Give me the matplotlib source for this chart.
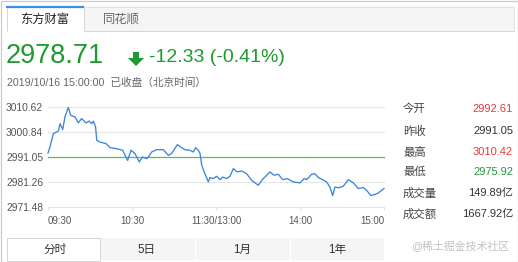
import matplotlib
matplotlib.use("Agg")
import matplotlib.pyplot as plt
from matplotlib.patches import Rectangle, Polygon

plt.rcParams['font.family'] = ['Liberation Sans', 'Noto Sans CJK SC', 'DejaVu Sans']

# ---------------- data ----------------
minutes = [0, 1.4, 3.8, 7.4, 8.6, 10.5, 12.1, 14.5, 16.2, 19.3, 21.7, 24, 27.1, 29.5, 31.2,
           32.4, 34, 34.8, 37.1, 41.4, 44.3, 49, 53.3, 56.9, 59.3, 62.1, 65.2, 67.6, 70.5,
           72.1, 74, 77.6, 82.4, 86, 88.3, 92.4, 95.5, 97.9, 101.4, 103.8, 105.5, 107.4,
           108.6, 109.8, 112.1, 114.5, 115.7, 118, 120.5, 122.9, 124.8, 127.6, 130, 132.4,
           135.2, 138.3, 141.9, 145.5, 150.2, 153.8, 158.6, 161.4, 164.5, 167.6, 170.9,
           175.2, 180, 182.9, 184.8, 188.3, 190.7, 193.1, 196.2, 199, 201.4, 203.3, 205,
           207.4, 210.9, 214.5, 218.1, 221.7, 225.2, 227.6, 230.5, 233.6, 236, 238.3, 240]
prices = [2992.61, 2994.96, 3000.2, 3001.2, 3004.1, 3001.8, 3006.7, 3010.42, 3007.4, 3006.7,
          3004.4, 3006.1, 3004.4, 3005.1, 3004.1, 3005.1, 3002.8, 2997.6, 2996.9, 2996.3,
          2994.7, 2994.3, 2993.7, 2989.7, 2993.7, 2992.4, 2989.1, 2991.05, 2990.4, 2991.3,
          2993.0, 2993.9, 2993.9, 2991.7, 2992.4, 2995.9, 2994.7, 2993.9, 2993.7, 2993.0,
          2994.7, 2993.7, 2992.4, 2987.8, 2984.5, 2981.3, 2983.0, 2982.6, 2983.5, 2982.2,
          2983.2, 2982.6, 2983.5, 2986.5, 2985.2, 2985.6, 2984.5, 2981.9, 2980.0, 2982.6,
          2985.2, 2983.9, 2984.3, 2982.2, 2982.6, 2981.3, 2980.9, 2982.6, 2982.2, 2984.3,
          2984.5, 2983.0, 2982.2, 2981.3, 2979.3, 2975.92, 2979.3, 2979.0, 2979.6, 2982.2,
          2980.9, 2978.7, 2979.1, 2978.0, 2976.0, 2976.4, 2977.0, 2978.0, 2978.71]
prev_close = 2991.05
y_ticks = [2971.48, 2981.26, 2991.05, 3000.84, 3010.62]
x_ticks = [0, 60, 120, 180, 240]
x_labels = ['09:30', '10:30', '11:30/13:00', '14:00', '15:00']

last_price = '2978.71'
change_text = '-12.33 (-0.41%)'
time_text = '2019/10/16 15:00:00  已收盘（北京时间）'
source_tabs = ['东方财富', '同花顺']
period_tabs = ['分时', '5日', '1月', '1年']
stat_labels = ['今开', '昨收', '最高', '最低', '成交量', '成交额']
stat_values = ['2992.61', '2991.05', '3010.42', '2975.92', '149.89亿', '1667.92亿']
stat_colors = ['#e23b3f', '#333333', '#e23b3f', '#22993a', '#333333', '#333333']

GREEN = '#1f9a30'
W, H = 518, 262

fig = plt.figure(figsize=(W / 100, H / 100), dpi=100)
fig.patch.set_facecolor('white')

bg = fig.add_axes([0, 0, 1, 1], zorder=0)
bg.set_xlim(0, W)
bg.set_ylim(H, 0)
bg.axis('off')

def rect(x0, y0, x1, y1, fc='none', ec='none', lw=0.0):
    bg.add_patch(Rectangle((x0, y0), x1 - x0, y1 - y0, facecolor=fc, edgecolor=ec, lw=lw))

def hline(x0, x1, y, c, lw=0.72):
    bg.plot([x0, x1], [y, y], color=c, lw=lw, solid_capstyle='butt')

def vline(x, y0, y1, c, lw=0.72):
    bg.plot([x, x], [y0, y1], color=c, lw=lw, solid_capstyle='butt')

# outer border
rect(0.5, 0.5, W - 0.5, H - 0.5, ec='#cccccc', lw=0.9)

# top tabs
rect(84, 6, 514, 31, fc='#f5f5f5')
hline(84, 514, 6.5, '#e3e3e3')
vline(514, 6, 31, '#e3e3e3')
hline(84, 514, 31, '#d6d6d6')
vline(6.5, 6, 31, '#d6d6d6')
vline(84, 6, 31, '#d6d6d6')
hline(6, 84, 6.5, '#3b8ee8', lw=1.6)
bg.text(45, 20, source_tabs[0], fontsize=8.8, color='#222222', ha='center', va='center')
bg.text(121, 20, source_tabs[1], fontsize=8.8, color='#666666', ha='center', va='center')

# price headline
bg.text(6, 56, last_price, fontsize=19.5, color=GREEN, ha='left', va='center')
bg.add_patch(Polygon([(133, 52), (139, 52), (139, 58), (144, 58), (136, 66), (128, 58), (133, 58)],
                     closed=True, facecolor=GREEN, edgecolor='none'))
bg.text(149, 58, change_text, fontsize=14, color=GREEN, ha='left', va='center')
bg.text(7, 83, time_text, fontsize=7.7, color='#666666', ha='left', va='center')

# stats panel
row_y = [109, 131, 152, 172, 193, 214]
for lab, val, col, y in zip(stat_labels, stat_values, stat_colors, row_y):
    bg.text(403, y, lab, fontsize=8.2, color='#444444', ha='left', va='center')
    bg.text(513, y, val, fontsize=8.0, color=col, ha='right', va='center')

bg.text(509, 247, '@稀土掘金技术社区', fontsize=7.8, color='#c2c2c2', ha='right', va='center')

# bottom tabs
rect(100, 238, 384, 260, fc='#f5f5f5')
vline(195, 238, 260, 'white', lw=1.0)
vline(290, 238, 260, 'white', lw=1.0)
rect(6.5, 238, 100, 261, fc='white', ec='#d6d6d6', lw=0.72)
tab_x = [55, 147, 242, 337]
for t, x in zip(period_tabs, tab_x):
    bg.text(x, 250, t, fontsize=8.4, color='#333333', ha='center', va='center')

# ---------------- chart ----------------
left, right, top, bottom = 48, 384, 107, 207
ax = fig.add_axes([left / W, 1 - bottom / H, (right - left) / W, (bottom - top) / H], zorder=2)
ax.patch.set_alpha(0)
ax.set_xlim(0, 240)
ax.set_ylim(y_ticks[0], y_ticks[-1])
for s in ax.spines.values():
    s.set_visible(False)

for yv in y_ticks:
    if abs(yv - prev_close) > 1e-6:
        ax.axhline(yv, color='#e6e6e6', lw=0.8, zorder=1, clip_on=False)
ax.axhline(prev_close, color='#5cb85c', lw=0.9, zorder=2, clip_on=False)
ax.plot(minutes, prices, color='#3a86dd', lw=0.95, zorder=3, clip_on=False)

ax.set_yticks(y_ticks)
ax.set_yticklabels([f'{v:.2f}' for v in y_ticks])
ax.tick_params(axis='y', length=0, pad=3.5, labelsize=7.4, labelcolor='#555555')
ax.set_xticks(x_ticks)
ax.set_xticklabels(x_labels)
ax.tick_params(axis='x', length=2.5, width=0.6, color='#dddddd', pad=4.2,
               labelsize=7.0, labelcolor='#555555')
xl = ax.get_xticklabels()
xl[0].set_ha('left')
xl[-1].set_ha('right')

fig.savefig('out.png', dpi=100, facecolor='white')
